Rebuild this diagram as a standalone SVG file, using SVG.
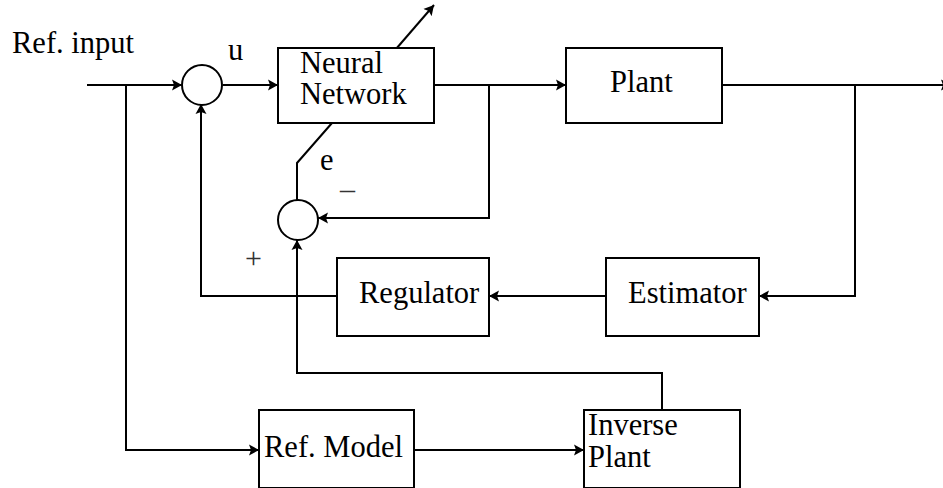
<svg xmlns="http://www.w3.org/2000/svg" width="943" height="488" viewBox="0 0 943 488">
<defs>
<marker id="arr" markerUnits="userSpaceOnUse" markerWidth="12" markerHeight="12" refX="10" refY="6" orient="auto">
<path d="M0,0.5 L10,6 L0,11.5 L2,6 z" fill="#000"/>
</marker>
<style>
.box{fill:#fff;stroke:#000;stroke-width:2}
.ln{fill:none;stroke:#000;stroke-width:2}
.t{font-family:"Liberation Serif","Times New Roman",serif;font-size:30.5px;fill:#000}
.s{font-family:"Liberation Serif","Times New Roman",serif;font-size:30px;fill:#333}
</style>
</defs>
<rect width="943" height="488" fill="#fff"/>
<g id="connectors">
<path class="ln" d="M87,85 H182" marker-end="url(#arr)"/>
<path class="ln" d="M126,85 V450 H259" marker-end="url(#arr)"/>
<path class="ln" d="M223,85 H278" marker-end="url(#arr)"/>
<path class="ln" d="M434,85 H566" marker-end="url(#arr)"/>
<path class="ln" d="M722,85 H951" marker-end="url(#arr)"/>
<path class="ln" d="M489,85 V218 H318" marker-end="url(#arr)"/>
<path class="ln" d="M855,85 V296 H759" marker-end="url(#arr)"/>
<path class="ln" d="M606,296 H489" marker-end="url(#arr)"/>
<path class="ln" d="M337,296 H201 V104" marker-end="url(#arr)"/>
<path class="ln" d="M414,450 H584" marker-end="url(#arr)"/>
<path class="ln" d="M662,410 V373 H297 V240" marker-end="url(#arr)"/>
<path class="ln" d="M332,123 L297,163 V200"/>
<path class="ln" d="M396,49 L434,5" marker-end="url(#arr)"/>
</g>
<g id="sum1"><circle cx="202" cy="85" r="20" class="box"/></g>
<g id="sum2"><circle cx="298" cy="220" r="20" class="box"/></g>
<g id="nn"><rect x="278" y="48" width="156" height="75" class="box"/>
<text class="t" x="300" y="73">Neural</text><text class="t" x="300" y="104">Network</text></g>
<g id="plant"><rect x="566" y="48" width="156" height="75" class="box"/>
<text class="t" x="610" y="92">Plant</text></g>
<g id="regulator"><rect x="337" y="258" width="152" height="78" class="box"/>
<text class="t" x="359" y="303">Regulator</text></g>
<g id="estimator"><rect x="606" y="258" width="153" height="78" class="box"/>
<text class="t" x="628" y="303">Estimator</text></g>
<g id="refmodel"><rect x="259" y="410" width="155" height="78" class="box"/>
<text class="t" x="264" y="457">Ref. Model</text></g>
<g id="inverse"><rect x="584" y="410" width="156" height="78" class="box"/>
<text class="t" x="588" y="435">Inverse</text><text class="t" x="588" y="467">Plant</text></g>
<g id="labels">
<text class="t" x="12" y="53">Ref. input</text>
<text class="t" x="228" y="60">u</text>
<text class="t" x="320" y="170">e</text>
<text class="s" x="340" y="199">–</text>
<text class="s" x="245" y="268">+</text>
</g>
</svg>
